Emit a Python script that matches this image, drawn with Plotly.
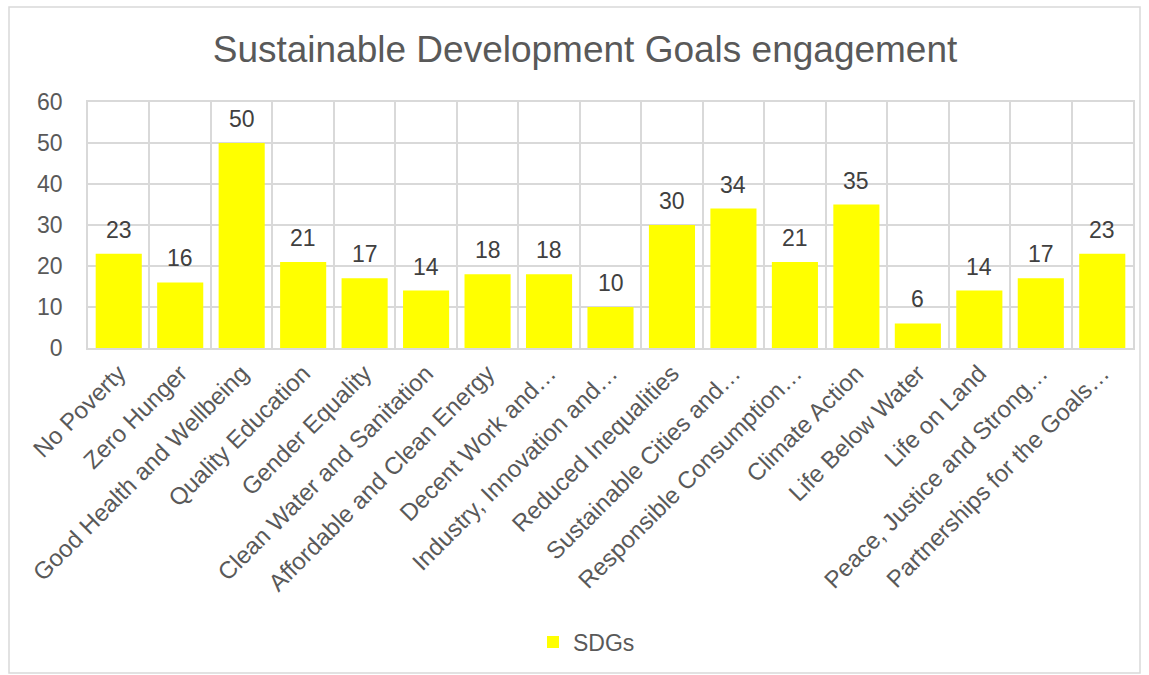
import plotly.graph_objects as go

# Goal names as shown on the category axis (long ones truncated)
goals = [
    "No Poverty", "Zero Hunger", "Good Health and Wellbeing", "Quality Education",
    "Gender Equality", "Clean Water and Sanitation", "Affordable and Clean Energy",
    "Decent Work and…", "Industry, Innovation and…", "Reduced Inequalities",
    "Sustainable Cities and…", "Responsible Consumption…", "Climate Action",
    "Life Below Water", "Life on Land", "Peace, Justice and Strong…",
    "Partnerships for the Goals…",
]
engagement = [23, 16, 50, 21, 17, 14, 18, 18, 10, 30, 34, 21, 35, 6, 14, 17, 23]
y_ticks = [0, 10, 20, 30, 40, 50, 60]

W, H = 1149, 675
L, R, T, B = 88, 16, 102, 327
pw, ph = W - L - R, H - T - B

def px_x(x):
    return (x - L) / pw

def px_y(y):
    return (H - B - y) / ph

grey = "#595959"
grid = "#d9d9d9"
font = "Liberation Sans, Arial, sans-serif"

fig = go.Figure(
    go.Bar(
        x=goals,
        y=engagement,
        name="SDGs",
        marker=dict(color="#ffff00", line=dict(width=0)),
    )
)

# value labels sitting a little above each bar
for g, v in zip(goals, engagement):
    fig.add_annotation(
        x=g, y=v, text=str(v), showarrow=False,
        xanchor="center", yanchor="bottom", yshift=9,
        font=dict(size=23, color="#404040", family=font),
    )

fig.update_layout(
    width=W,
    height=H,
    margin=dict(l=L, r=R, t=T, b=B),
    paper_bgcolor="white",
    plot_bgcolor="white",
    font=dict(family=font, color=grey),
    title=dict(
        text="Sustainable Development Goals engagement",
        x=px_x(585), xanchor="center", xref="paper",
        y=1 - 49 / H, yanchor="middle",
        font=dict(size=37, color=grey, family=font),
    ),
    bargap=0.25,
    showlegend=True,
    legend=dict(
        orientation="h", x=px_x(533), xanchor="left", y=px_y(642), yanchor="middle",
        font=dict(size=23, color=grey), itemwidth=30,
    ),
    xaxis=dict(
        tickangle=-45,
        tickfont=dict(size=24, color=grey),
        tickson="boundaries",
        showgrid=True, gridcolor=grid, gridwidth=1.5,
        showline=True, linecolor=grid, linewidth=1.5, mirror=True,
        ticks="",
    ),
    yaxis=dict(
        range=[0, 60],
        tickvals=y_ticks,
        tickfont=dict(size=23, color=grey),
        showgrid=True, gridcolor=grid, gridwidth=1.5,
        showline=True, linecolor=grid, linewidth=1.5, mirror=True,
        zeroline=False, ticks="", ticklabelstandoff=19,
    ),
    shapes=[
        dict(
            type="rect", xref="paper", yref="paper",
            x0=px_x(9), x1=px_x(1140), y0=px_y(673), y1=px_y(7),
            line=dict(color="#d9d9d9", width=1.5), fillcolor="rgba(0,0,0,0)",
            layer="below",
        )
    ],
)

fig.write_html("out.html")
